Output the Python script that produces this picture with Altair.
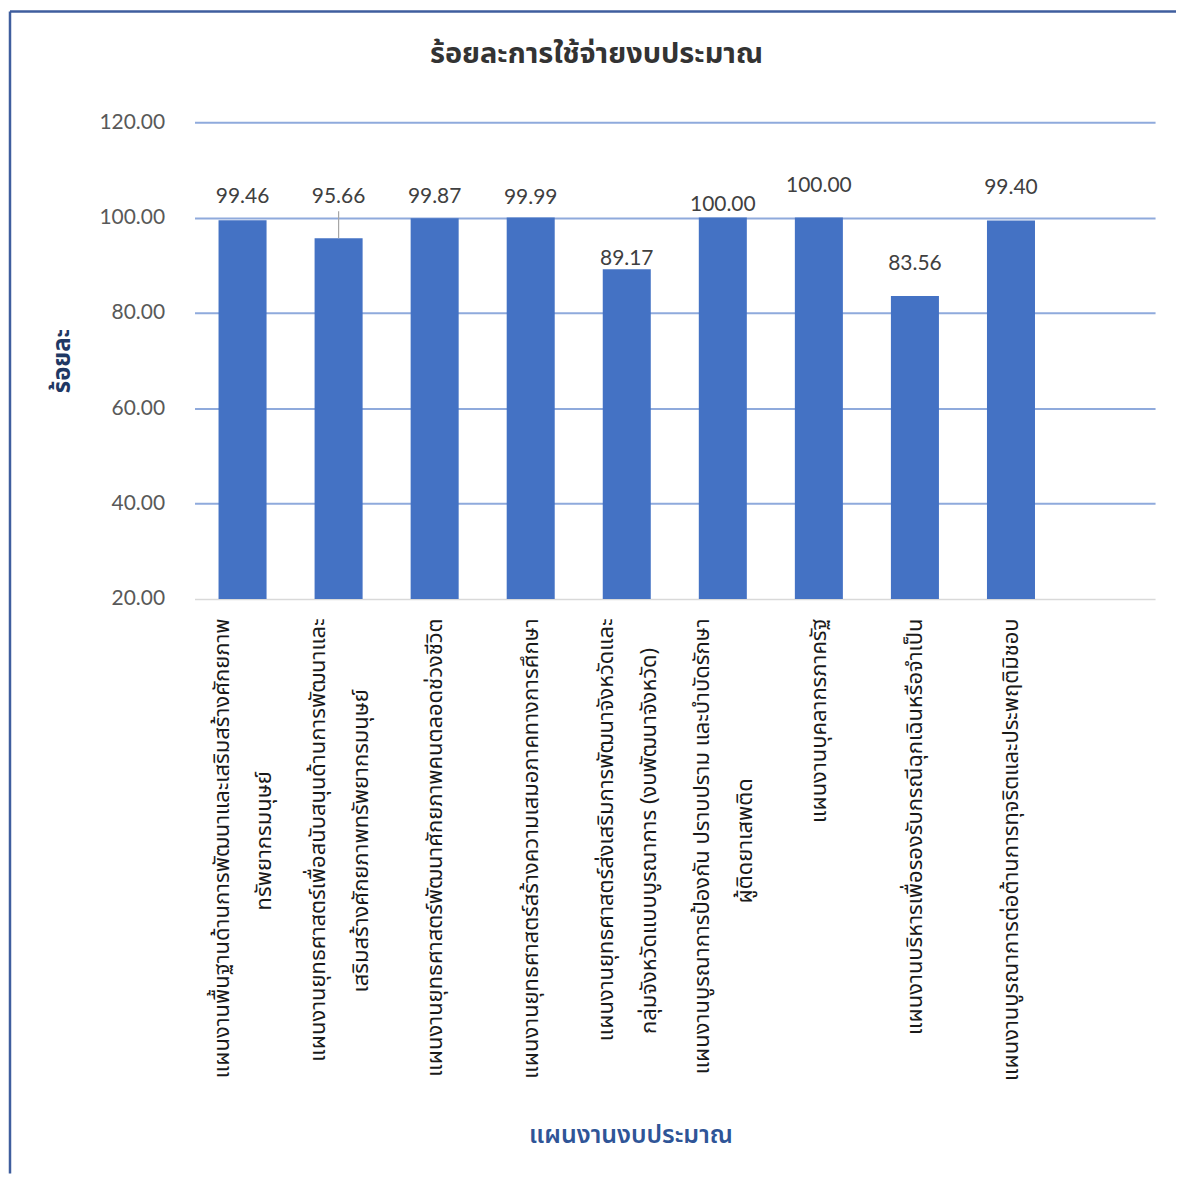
import altair as alt
import pandas as pd

# ---- data ----
line1 = [
    "แผนงานพื้นฐานด้านการพัฒนาและเสริมสร้างศักยภาพ",
    "แผนงานยุทธศาสตร์เพื่อสนับสนุนด้านการพัฒนาและ",
    "แผนงานยุทธศาสตร์พัฒนาศักยภาพคนตลอดช่วงชีวิต",
    "แผนงานยุทธศาสตร์สร้างความเสมอภาคทางการศึกษา",
    "แผนงานยุทธศาสตร์ส่งเสริมการพัฒนาจังหวัดและ",
    "แผนงานบูรณาการป้องกัน ปราบปราม และบำบัดรักษา",
    "แผนงานบุคลากรภาครัฐ",
    "แผนงานบริหารเพื่อรองรับกรณีฉุกเฉินหรือจำเป็น",
    "แผนงานบูรณาการต่อต้านการทุจริตและประพฤติมิชอบ",
]
line2 = [
    "ทรัพยากรมนุษย์",
    "เสริมสร้างศักยภาพทรัพยากรมนุษย์",
    "",
    "",
    "กลุ่มจังหวัดแบบบูรณาการ (งบพัฒนาจังหวัด)",
    "ผู้ติดยาเสพติด",
    "",
    "",
    "",
]
values = [99.46, 95.66, 99.87, 99.99, 89.17, 100.00, 100.00, 83.56, 99.40]
# where each data label sits (in value units), as placed in the original
label_pos = [104.4, 104.4, 104.4, 104.2, 91.4, 102.7, 106.7, 90.2, 106.1]

title_text = "ร้อยละการใช้จ่ายงบประมาณ"
y_title = "ร้อยละ"
x_title = "แผนงานงบประมาณ"
y_ticks = [20, 40, 60, 80, 100, 120]
y_min, y_max = 20, 120

categories = [a + ("\n" + b if b else "") for a, b in zip(line1, line2)]
domain = categories + [" "]  # empty slot on the right, as in the original

df = pd.DataFrame({"category": categories, "value": values, "label_y": label_pos})

THAI = "Noto Sans Thai, Noto Sans, DejaVu Sans, sans-serif"
NUM = "Lato, Carlito, Noto Sans, sans-serif"

x_scale = alt.Scale(domain=domain, paddingInner=0.5, paddingOuter=0.25)
y_scale = alt.Scale(domain=[y_min, y_max], nice=False, zero=False)

two_line = "indexof(datum.value, '\\n') >= 0"

axis_a = alt.Axis(
    orient="bottom",
    labelAngle=-90,
    labelAlign="right",
    labelBaseline="middle",
    labelExpr="split(datum.value, '\\n')[0]",
    labelOffset={"condition": {"test": two_line, "value": -21}, "value": 0},
    labelPadding=19,
    labelFont=THAI,
    labelFontSize=22,
    labelColor="#1a1a1a",
    labelLimit=0,
    labelOverlap=False,
    ticks=False,
    grid=False,
    domainColor="#D9D9D9",
    domainWidth=1.5,
    title=x_title,
    titleFont=THAI,
    titleFontSize=25,
    titleFontWeight=600,
    titleColor="#2F5597",
    titleX=437,
    titleY=537,
    titleAlign="center",
    titleBaseline="middle",
)

axis_b = alt.Axis(
    orient="bottom",
    labelAngle=-90,
    labelAlign="center",
    labelBaseline="middle",
    labelExpr="split(datum.value, '\\n')[1] || ''",
    labelOffset=22,
    labelPadding=242,
    labelFont=THAI,
    labelFontSize=22,
    labelColor="#1a1a1a",
    labelLimit=0,
    labelOverlap=False,
    ticks=False,
    grid=False,
    domain=False,
    title=None,
)

y_axis = alt.Axis(
    values=y_ticks,
    format=".2f",
    grid=True,
    gridColor={"condition": {"test": "datum.value == 20", "value": "transparent"}, "value": "#8FAADC"},
    gridWidth=2,
    domain=False,
    ticks=False,
    labelFont=NUM,
    labelFontSize=21,
    labelColor="#595959",
    labelPadding=30,
    title=y_title,
    titleFont=THAI,
    titleFontSize=24,
    titleFontWeight="bold",
    titleColor="#1F3864",
    titlePadding=24,
)

base = alt.Chart(df)

bars = base.mark_bar(color="#4472C4").encode(
    x=alt.X("category:N", scale=x_scale, axis=axis_a, sort=None),
    y=alt.Y("value:Q", scale=y_scale, axis=y_axis),
    y2=alt.datum(y_min),
)

labels = base.mark_text(font=NUM, fontSize=21, color="#404040", baseline="middle").encode(
    x=alt.X("category:N", scale=x_scale, axis=axis_b, sort=None),
    y=alt.Y("label_y:Q", scale=y_scale, axis=y_axis),
    text=alt.Text("value:Q", format=".2f"),
)

leader = base.transform_filter("datum.label_y - datum.value > 8").transform_calculate(
    top="datum.label_y - 3.1"
).mark_rule(color="#A6A6A6", strokeWidth=1.2).encode(
    x=alt.X("category:N", scale=x_scale, axis=None, sort=None),
    y=alt.Y("value:Q", scale=y_scale, axis=y_axis),
    y2="top:Q",
)

one = alt.Chart(pd.DataFrame({"k": [0]}))
frame_left = one.mark_rule(color="#3F5E9E", strokeWidth=2.5).encode(
    x=alt.value(-185), y=alt.value(-111), y2=alt.value(1054)
)
frame_top = one.mark_rule(color="#3F5E9E", strokeWidth=2.5).encode(
    x=alt.value(-185), x2=alt.value(984), y=alt.value(-111)
)
title = one.mark_text(
    text=title_text, font=THAI, fontSize=29, fontWeight="bold", color="#333333",
    align="center", baseline="middle",
).encode(x=alt.value(403), y=alt.value(-68))

chart = (
    alt.layer(bars, labels, leader, frame_left, frame_top, title)
    .resolve_scale(x="shared", y="shared")
    .resolve_axis(x="independent", y="shared")
    .properties(width=963, height=478, padding=0)
    .configure_view(stroke=None)
)

chart.save("out.html", embed_options={"renderer": "svg", "actions": False})
